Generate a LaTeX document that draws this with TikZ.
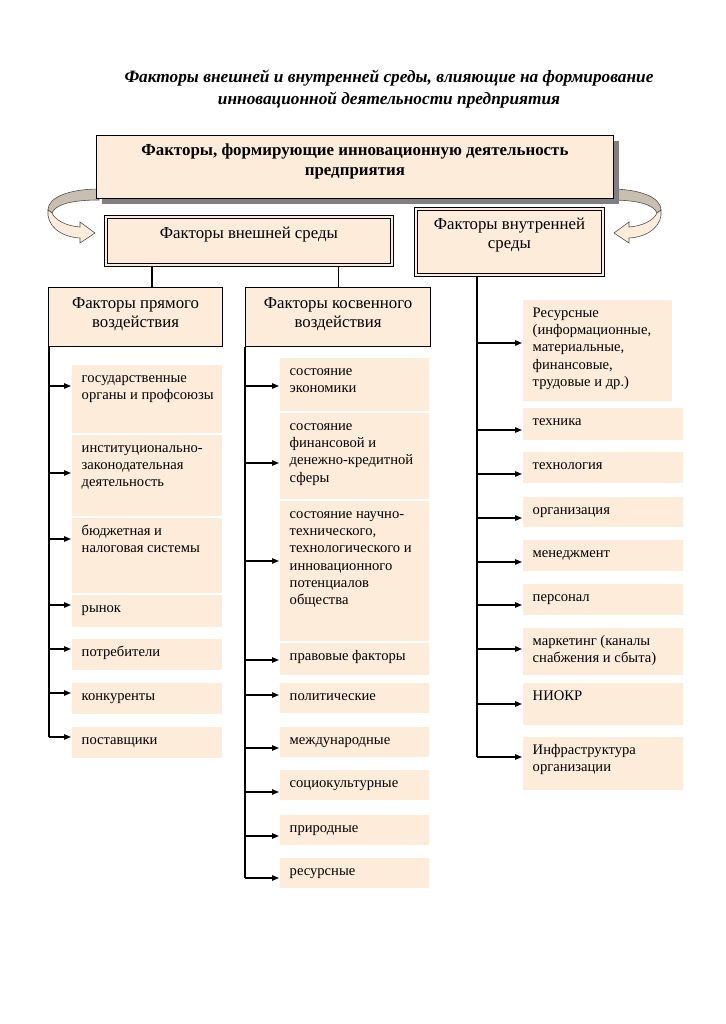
\documentclass[tikz,border=0pt]{standalone}
\usepackage{fontspec}
\setmainfont{Liberation Serif}
\usetikzlibrary{calc,arrows.meta}
\definecolor{cream}{RGB}{253,236,217}
\definecolor{shadowgray}{RGB}{128,128,128}
\definecolor{curlback}{RGB}{200,191,176}
\definecolor{curlline}{RGB}{80,80,80}
\newcommand\fbx[6]{% name, x1, y1, x2, y2, text
  \node[itembox, minimum width=#4-#2, minimum height=#5-#3] (#1) at (#2,#3) {};
  \node[itemtext] (#1t) at ($(#1.north west)+(9.5,5)$) {\strut #6};
}
\newcommand\iarr[3]{% trunk x, y, target box
  \draw[arr] (#1,#2) -- (#3.west |- #1,#2);
}
\newcommand\innerframe[1]{%
  \draw[line width=0.9pt] ($(#1.north west)+(3,3)$) rectangle ($(#1.south east)+(-3,-3)$);
}
\begin{document}
\begin{tikzpicture}[x=1pt,y=-1pt,
  itembox/.style={fill=cream, inner sep=0pt, anchor=north west},
  itemtext/.style={anchor=north west, inner sep=0pt, align=left, font=\fontsize{14.6}{17.3}\selectfont},
  hdrbox/.style={draw=black, line width=1.1pt, fill=cream, inner sep=0pt, anchor=north west},
  dblbox/.style={draw=black, line width=0.9pt, fill=cream, inner sep=0pt, anchor=north west},
  hdrtext/.style={anchor=north, inner sep=0pt, align=center, font=\fontsize{16.8}{19}\selectfont},
  arr/.style={-{Triangle[length=7pt,width=5.5pt]}, line width=1.3pt, shorten >=1pt},
  trunk/.style={line width=1.7pt},
  link/.style={line width=1.1pt},
  curlfront/.style={fill=cream, draw=curlline, line width=0.6pt},
  curlback/.style={fill=curlback, draw=curlline, line width=0.6pt}]
\useasboundingbox[fill=white] (0,0) rectangle (725,1024);

% title
\node[anchor=north, inner sep=0pt, align=center, font=\fontsize{17.3}{22}\selectfont\bfseries\itshape] (title) at (389,67)
  {\strut Факторы внешней и внутренней среды, влияющие на формирование\\инновационной деятельности предприятия};

% curled arrows (drawn beneath the top box)
\path[curlback] (99,189) .. controls (70,189) and (48,197) .. (48,210) -- (52,213) .. controls (55,205) and (70,200) .. (99,200) -- cycle;
\path[curlfront] (48,210) .. controls (46,225) and (60,237) .. (80,238) -- (80,243) -- (95,233) -- (80,222) -- (80,227) .. controls (66,226) and (55,220) .. (52,213) -- cycle;
\begin{scope}[xshift=709pt, xscale=-1]
\path[curlback] (99,189) .. controls (70,189) and (48,197) .. (48,210) -- (52,213) .. controls (55,205) and (70,200) .. (99,200) -- cycle;
\path[curlfront] (48,210) .. controls (46,225) and (60,237) .. (80,238) -- (80,243) -- (95,233) -- (80,222) -- (80,227) .. controls (66,226) and (55,220) .. (52,213) -- cycle;
\end{scope}

% top box with shadow
\fill[shadowgray] (102,141) rectangle (619,204);
\node[draw=black, line width=0.8pt, fill=cream, inner sep=0pt, anchor=north west, minimum width=517, minimum height=63] (top) at (96,135) {};
\node[anchor=north, inner sep=0pt, align=center, font=\fontsize{16.9}{20}\selectfont\bfseries] (topt) at ($(top.north)+(0,6)$)
  {\strut Факторы, формирующие инновационную деятельность\\предприятия};

% environment boxes
\node[dblbox, minimum width=289, minimum height=51] (vnesh) at (104,215) {};
\innerframe{vnesh}
\node[hdrtext] (vnesht) at ($(vnesh.north)+(0,9.5)$) {\strut Факторы внешней среды};
\node[dblbox, minimum width=190, minimum height=69] (vnutr) at (414,207) {};
\innerframe{vnutr}
\node[hdrtext] (vnutrt) at ($(vnutr.north)+(0,8.5)$) {\strut Факторы внутренней\\среды};

% direct / indirect headers
\node[hdrbox, minimum width=174, minimum height=59] (pryam) at (48,287) {};
\node[hdrtext] (pryamt) at ($(pryam.north)+(0,8)$) {\strut Факторы прямого\\воздействия};
\node[hdrbox, minimum width=185, minimum height=59] (kosv) at (245,287) {};
\node[hdrtext] (kosvt) at ($(kosv.north)+(0,8)$) {\strut Факторы косвенного\\воздействия};

\draw[link] (vnesh.south -| 152,0) -- (pryam.north -| 152,0);
\draw[link] (vnesh.south -| kosv.north) -- (kosv.north);

% left column
\fbx{g1}{72}{365}{222}{433}{государственные\\органы и профсоюзы}
\fbx{g2}{72}{435}{222}{516}{институционально-\\законодательная\\деятельность}
\fbx{g3}{72}{518}{222}{593}{бюджетная и\\налоговая системы}
\fbx{g4}{72}{595}{222}{627}{рынок}
\fbx{g5}{72}{639}{222}{670}{потребители}
\fbx{g6}{72}{683}{222}{714}{конкуренты}
\fbx{g7}{72}{727}{222}{758}{поставщики}
\coordinate (lend) at (49,737);
\draw[trunk] (pryam.south west -| lend) -- (lend);
\iarr{49}{386}{g1}
\iarr{49}{473}{g2}
\iarr{49}{539}{g3}
\iarr{49}{605}{g4}
\iarr{49}{649}{g5}
\iarr{49}{693}{g6}
\iarr{49}{737}{g7}

% middle column
\fbx{m1}{280}{358}{429}{411}{состояние\\экономики}
\fbx{m2}{280}{413}{429}{499}{состояние\\финансовой и\\денежно-кредитной\\сферы}
\fbx{m3}{280}{501}{429}{641}{состояние научно-\\технического,\\технологического и\\инновационного\\потенциалов\\общества}
\fbx{m4}{280}{643}{429}{675}{правовые факторы}
\fbx{m5}{280}{683}{429}{713}{политические}
\fbx{m6}{280}{727}{429}{757}{международные}
\fbx{m7}{280}{770}{429}{800}{социокультурные}
\fbx{m8}{280}{815}{429}{845}{природные}
\fbx{m9}{280}{858}{429}{888}{ресурсные}
\coordinate (mend) at (245,878);
\draw[trunk] (kosv.south west -| mend) -- (mend);
\iarr{245}{386}{m1}
\iarr{245}{463}{m2}
\iarr{245}{561}{m3}
\iarr{245}{660}{m4}
\iarr{245}{695}{m5}
\iarr{245}{748}{m6}
\iarr{245}{792}{m7}
\iarr{245}{836}{m8}
\iarr{245}{878}{m9}

% right column
\fbx{r1}{523}{300}{672}{401}{Ресурсные\\(информационные,\\материальные,\\финансовые,\\трудовые и др.)}
\fbx{r2}{523}{408}{683}{440}{техника}
\fbx{r3}{523}{452}{683}{483}{технология}
\fbx{r4}{523}{497}{683}{527}{организация}
\fbx{r5}{523}{540}{683}{571}{менеджмент}
\fbx{r6}{523}{584}{683}{615}{персонал}
\fbx{r7}{523}{628}{683}{675}{маркетинг (каналы\\снабжения и сбыта)}
\fbx{r8}{523}{683}{683}{725}{НИОКР}
\fbx{r9}{523}{737}{683}{790}{Инфраструктура\\организации}
\coordinate (rend) at (477,757);
\draw[trunk] (vnutr.south -| rend) -- (rend);
\iarr{477}{343}{r1}
\iarr{477}{430}{r2}
\iarr{477}{474}{r3}
\iarr{477}{518}{r4}
\iarr{477}{562}{r5}
\iarr{477}{605}{r6}
\iarr{477}{649}{r7}
\iarr{477}{704}{r8}
\iarr{477}{757}{r9}
\end{tikzpicture}
\end{document}
